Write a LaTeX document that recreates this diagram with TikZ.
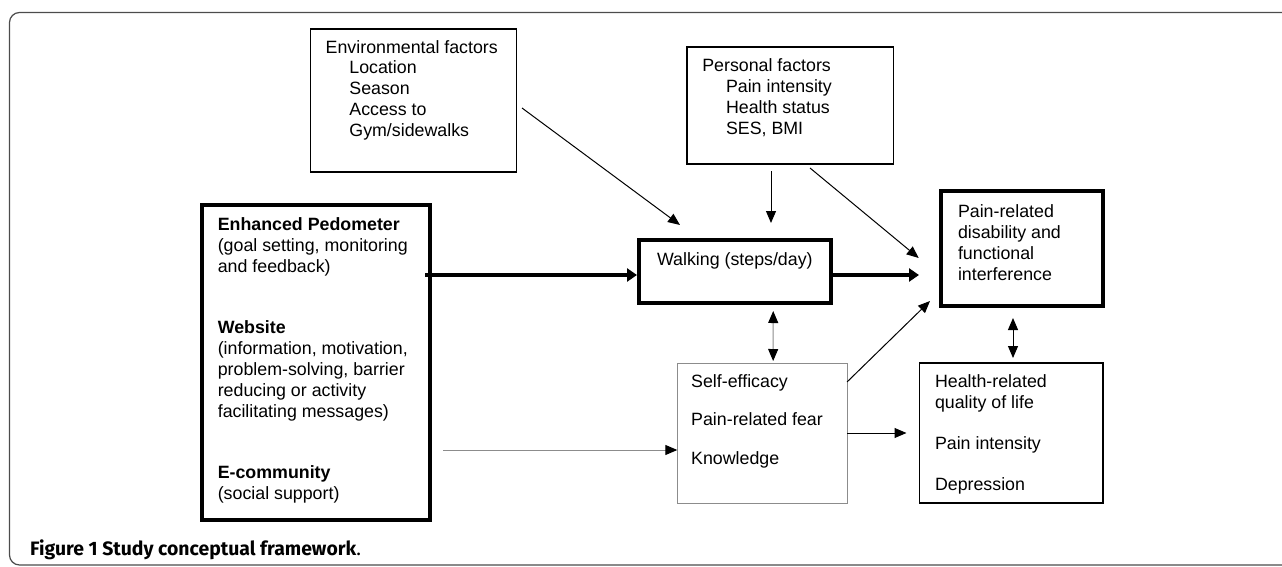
\documentclass[tikz,border=0pt]{standalone}
\usepackage{fontspec}
\setmainfont{Liberation Sans}
\newfontfamily\capfont{Fira Sans}
\usetikzlibrary{arrows.meta,calc}
\definecolor{frameg}{gray}{0.3}
\definecolor{lightg}{gray}{0.55}
\tikzset{
  box/.style={draw, line width=1.3pt, inner sep=0pt, outer sep=0pt},
  thickbox/.style={draw, line width=4pt, inner sep=0pt, outer sep=0pt},
  txt/.style={anchor=base west, inner sep=0pt, outer sep=0pt, align=left, font=\fontsize{17.8}{21}\selectfont},
  Tri/.tip={Triangle[length=12pt,width=10pt,color=black]},
  arr/.style={-{Tri}, line width=1pt},
  grayarr/.style={draw=lightg, line width=1pt},
  bigarr/.style={-{Triangle[length=10pt,width=13pt]}, line width=4pt},
}
\begin{document}
\begin{tikzpicture}[x=1pt,y=-1pt]
\useasboundingbox (0,0) rectangle (1282,567);
% outer frame
\draw[frameg, line width=1.2pt, rounded corners=10pt] (9.5,12.5) rectangle (1300,565);

% boxes
\node[box, minimum width=206.2pt, minimum height=143pt] (env) at (413.5,100.5) {};
\node[box, minimum width=206.2pt, minimum height=117pt] (pers) at (790.2,105.5) {};
\node[thickbox, minimum width=227.5pt, minimum height=315pt] (ped) at (315.75,362.5) {};
\node[thickbox, minimum width=191.6pt, minimum height=63pt] (walk) at (734.8,271.5) {};
\node[thickbox, minimum width=162pt, minimum height=115pt] (dis) at (1022,248.5) {};
\node[box, draw=lightg, line width=1pt, minimum width=169.7pt, minimum height=140pt] (self) at (762.15,433) {};
\node[box, line width=1.5pt, minimum width=183.5pt, minimum height=140pt] (health) at (1011.25,433) {};

% texts (base anchor = baseline of last line)
\node[txt] (envt) at (325.7,137) {Environmental factors\\\hspace*{23.7pt}Location\\\hspace*{23.7pt}Season\\\hspace*{23.7pt}Access to\\\hspace*{23.7pt}Gym/sidewalks};
\node[txt] (perst) at (702.3,135) {Personal factors\\\hspace*{23.7pt}Pain intensity\\\hspace*{23.7pt}Health status\\\hspace*{23.7pt}SES, BMI};
\node[txt] (pedt1) at (217.8,272) {\textbf{Enhanced Pedometer}\\(goal setting, monitoring\\and feedback)};
\node[txt] (pedt2) at (217.8,417) {\textbf{Website}\\(information, motivation,\\problem-solving, barrier\\reducing or activity\\facilitating messages)};
\node[txt] (pedt3) at (217.8,499) {\textbf{E-community}\\(social support)};
\node[txt] (walkt) at (657,265) {Walking (steps/day)};
\node[txt] (dist) at (958,280) {Pain-related\\disability and\\functional\\interference};
\node[txt] (selft1) at (691.2,387) {Self-efficacy};
\node[txt] (selft2) at (691.2,425.5) {Pain-related fear};
\node[txt] (selft3) at (691.2,464) {Knowledge};
\node[txt] (healtht1) at (935,408) {Health-related\\quality of life};
\node[txt] (healtht2) at (935,449) {Pain intensity};
\node[txt] (healtht3) at (935,490) {Depression};

% connectors
\draw[arr] ([xshift=5.4pt,yshift=-7.5pt]env.east) -- ([xshift=41pt,yshift=15pt]walk.north west);
\draw[arr] ([xshift=-19.2pt,yshift=-7pt]pers.south) -- ([xshift=36.2pt,yshift=17pt]walk.north);
\draw[arr] ([xshift=19.8pt,yshift=-4pt]pers.south) -- ([xshift=-22.3pt,yshift=-9.5pt]dis.west);
\draw[bigarr] ([xshift=-4.5pt,yshift=87.5pt]ped.east) -- ([xshift=-2pt,yshift=-3.5pt]walk.west);
\draw[bigarr] ([yshift=-3.5pt]walk.east) -- ([xshift=-22pt,yshift=-26.5pt]dis.west);
\draw[grayarr, {Tri}-{Tri}] ([xshift=38.4pt,yshift=-8pt]walk.south) -- ([xshift=11pt,yshift=2pt]self.north);
\draw[arr] ([yshift=-19pt]self.north east) -- ([xshift=-11pt,yshift=5pt]dis.south west);
\draw[line width=1pt, {Tri}-{Tri}] ([xshift=-9pt,yshift=-12pt]dis.south) -- ([xshift=1.75pt,yshift=5pt]health.north);
\draw[arr] (self.east) -- ([xshift=-13pt]health.west);
\draw[grayarr, -{Tri}] ([xshift=13.5pt,yshift=-87.5pt]ped.east) -- ([yshift=-17pt]self.west);

% caption
\node[anchor=base west, inner sep=0pt, font=\capfont\fontsize{19.4}{22}\selectfont] (cap) at (30,555) {\bfseries Figure 1 Study conceptual framework\mdseries.};
\end{tikzpicture}
\end{document}
